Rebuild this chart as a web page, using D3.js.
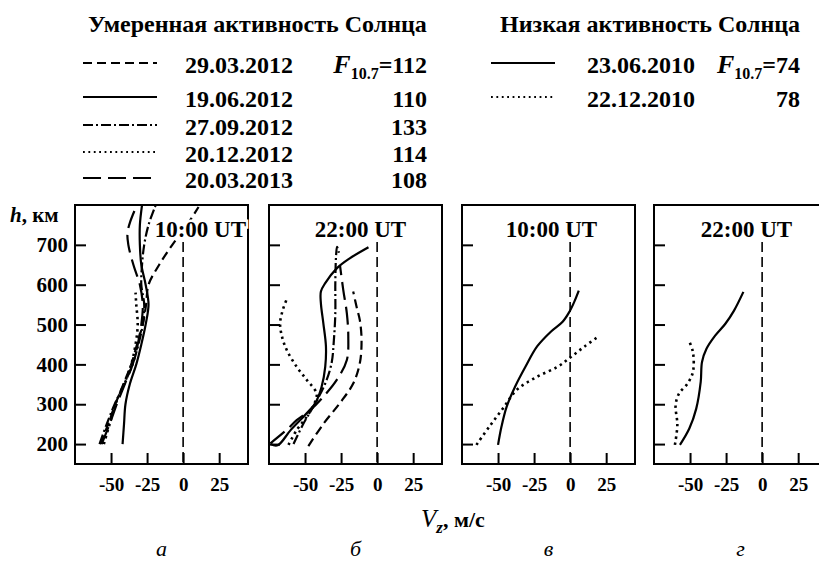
<!DOCTYPE html>
<html>
<head>
<meta charset="utf-8">
<script src="https://cdn.jsdelivr.net/npm/d3@7"></script>
<style>
  body { margin: 0; background: #fff; }
  svg text { font-family: "Times New Roman", Tinos, "Liberation Serif", "DejaVu Serif", serif; fill: #000; }
</style>
</head>
<body>
<svg id="chart" width="819" height="564"></svg>
<script>
// ---- data -------------------------------------------------------------
const panelLetters = ["а", "б", "в", "г"];
const panelTimes = ["10:00 UT", "22:00 UT", "10:00 UT", "22:00 UT"];
const heightTicks = [200, 300, 400, 500, 600, 700];
const velocityTicks = [-50, -25, 0, 25];

const moderateTitle = "Умеренная активность Солнца";
const moderateDates = ["29.03.2012", "19.06.2012", "27.09.2012", "20.12.2012", "20.03.2013"];
const moderateF107 = [112, 110, 133, 114, 108];
const lowTitle = "Низкая активность Солнца";
const lowDates = ["23.06.2010", "22.12.2010"];
const lowF107 = [74, 78];

// vertical plasma drift profiles, points are [Vz (m/s), h (km)]
// panel а: moderate activity, 10:00 UT
const a_29_03_2012 = [[-57.5,200],[-52,250],[-47,300],[-41.5,350],[-36,400],[-32,450],[-28,500],[-25.7,550],[-24,600],[-16.6,650],[-7.5,700],[2.7,750],[10.7,795]];
const a_19_06_2012 = [[-42,200],[-41,250],[-40,300],[-37,350],[-32.5,400],[-29,450],[-26,500],[-24,550],[-26,600],[-29,650],[-30,700],[-30,750],[-28.5,800]];
const a_27_09_2012 = [[-58,200],[-53,250],[-47.5,300],[-41,350],[-35,400],[-31,450],[-28,500],[-27,550],[-29,600],[-28.5,650],[-27,700],[-24,750],[-19,800]];
const a_20_12_2012 = [[-55,200],[-51,250],[-47,300],[-41,350],[-36,400],[-33,450],[-31.5,500],[-32.5,550],[-33,580]];
const a_20_03_2013 = [[-56.5,200],[-51,250],[-46,300],[-40.5,350],[-35,400],[-31.5,450],[-29,500],[-28,550],[-30,600],[-34.5,650],[-38,700],[-38.6,730],[-36.5,760],[-32,800]];

// panel б: moderate activity, 22:00 UT
const b_29_03_2012 = [[-47.7,195],[-37,252],[-26,302],[-16.6,352],[-12,403],[-10.8,461],[-12,511],[-14.3,545],[-16.6,583]];
const b_19_06_2012 = [[-74,200],[-69,197],[-60,235],[-50,273],[-43,302],[-38.5,344],[-36,394],[-35.5,445],[-37.3,503],[-39,553],[-39,583],[-36,604],[-28,641],[-19,666],[-6,694]];
const b_27_09_2012 = [[-58,200],[-51,252],[-43,302],[-36,352],[-31.6,403],[-30,461],[-29,528],[-29,603],[-28.5,671],[-27.8,695],[-26.5,680]];
const b_20_12_2012 = [[-61.5,198],[-55.8,235],[-48.8,269],[-43.5,302],[-42,327],[-48.8,361],[-55.8,394],[-62.7,436],[-66,470],[-67.3,503],[-65.4,537],[-62,570]];
const b_20_03_2013 = [[-74,202],[-63,235],[-55.8,260],[-46.5,285],[-37.3,319],[-28,361],[-21,411],[-20,470],[-21,528],[-23.5,587],[-25.8,650]];

// panel в: low activity, 10:00 UT
const c_23_06_2010 = [[-50,198],[-47.6,244],[-44,294],[-38.2,344],[-31,394],[-22.9,445],[-13.4,482],[-5.2,507],[-0.5,532],[3,558],[6,585]];
const c_22_12_2010 = [[-65,198],[-56,244],[-46.5,290],[-37,336],[-22.9,369],[-8.7,394],[0.7,419],[10,445],[19.6,470]];

// panel г: low activity, 22:00 UT
const d_23_06_2010 = [[-57,198],[-50.5,239],[-45.7,289],[-42.6,356],[-41.7,406],[-38.6,439],[-32.6,472],[-25.5,502],[-19.5,535],[-13,582]];
const d_22_12_2010 = [[-60.5,198],[-58.8,248],[-60,298],[-57.6,327],[-51.7,352],[-48,381],[-48,431],[-51,462]];

const panelSeries = [
  [["29.03.2012", a_29_03_2012], ["19.06.2012", a_19_06_2012], ["27.09.2012", a_27_09_2012], ["20.12.2012", a_20_12_2012], ["20.03.2013", a_20_03_2013]],
  [["29.03.2012", b_29_03_2012], ["19.06.2012", b_19_06_2012], ["27.09.2012", b_27_09_2012], ["20.12.2012", b_20_12_2012], ["20.03.2013", b_20_03_2013]],
  [["23.06.2010", c_23_06_2010], ["22.12.2010", c_22_12_2010]],
  [["23.06.2010", d_23_06_2010], ["22.12.2010", d_22_12_2010]]
];

// ---- styles -------------------------------------------------------------
const dashByDate = {
  "29.03.2012": "9,5",
  "19.06.2012": null,
  "27.09.2012": "10,3,2,3",
  "20.12.2012": "dot",
  "20.03.2013": "18,7",
  "23.06.2010": null,
  "22.12.2010": "dot"
};

const svg = d3.select("#chart");
const panelLeft = [75, 269, 462, 654];
const panelWidth = 173;
const panelTop = 205, panelBottom = 464;
const titleAnchor = ["end", "middle", "middle", "middle"];
const titleShift = [-2, 5, 3, 6];

const y = d3.scaleLinear().domain([150, 800]).range([panelBottom, panelTop]);

function applyDash(sel, key, forLegend) {
  const d = dashByDate[key];
  if (d === "dot") {
    sel.attr("stroke-dasharray", forLegend ? "1.8,3.6" : "2.4,3.8");
  } else if (d) {
    sel.attr("stroke-dasharray", d);
  }
}

panelSeries.forEach((series, i) => {
  const x0 = panelLeft[i];
  const x = d3.scaleLinear().domain([-75, 45]).range([x0, x0 + panelWidth]);
  const g = svg.append("g");

  const clipId = "clip" + i;
  svg.append("clipPath").attr("id", clipId).append("rect")
    .attr("x", x0).attr("y", panelTop).attr("width", panelWidth).attr("height", panelBottom - panelTop);

  // zero-velocity reference
  g.append("line")
    .attr("x1", x(0)).attr("x2", x(0))
    .attr("y1", y(707)).attr("y2", panelBottom)
    .attr("stroke", "#000").attr("stroke-width", 1.6)
    .attr("stroke-dasharray", "10,5");

  const line = d3.line()
    .x(d => x(d[0])).y(d => y(d[1]))
    .curve(d3.curveCatmullRom.alpha(0.5));

  const curves = g.append("g").attr("clip-path", `url(#${clipId})`);
  series.forEach(([date, pts]) => {
    const p = curves.append("path")
      .attr("d", line(pts))
      .attr("fill", "none")
      .attr("stroke", "#000")
      .attr("stroke-width", dashByDate[date] === "dot" ? 2.6 : 2.2)
      .attr("stroke-linejoin", "round");
    applyDash(p, date, false);
  });

  // frame
  g.append("rect")
    .attr("x", x0).attr("y", panelTop)
    .attr("width", panelWidth).attr("height", panelBottom - panelTop)
    .attr("fill", "none").attr("stroke", "#000").attr("stroke-width", 2);

  // axes with inward ticks
  const yAxis = d3.axisLeft(y).tickValues(heightTicks)
    .tickSizeInner(-11).tickSizeOuter(0).tickPadding(7)
    .tickFormat(i === 0 ? d => String(d) : () => "");
  const ya = g.append("g").attr("transform", `translate(${x0},0)`).call(yAxis);
  ya.select(".domain").remove();
  ya.selectAll("line").attr("stroke-width", 2);
  ya.selectAll("text").attr("font-size", 21).attr("font-weight", "bold");

  const xAxis = d3.axisBottom(x).tickValues(velocityTicks)
    .tickSizeInner(-11).tickSizeOuter(0).tickPadding(14)
    .tickFormat(d => String(d));
  const xa = g.append("g").attr("transform", `translate(0,${panelBottom})`).call(xAxis);
  xa.select(".domain").remove();
  xa.selectAll("line").attr("stroke-width", 2);
  xa.selectAll("text").attr("font-size", 19).attr("font-weight", "bold");

  // panel time label
  const tx = titleAnchor[i] === "end" ? x0 + panelWidth + titleShift[i] : x0 + panelWidth / 2 + titleShift[i];
  g.append("text")
    .attr("x", tx).attr("y", 237)
    .attr("text-anchor", titleAnchor[i])
    .attr("font-size", 23).attr("font-weight", "bold")
    .attr("stroke", "#fff").attr("stroke-width", 5).attr("paint-order", "stroke")
    .text(panelTimes[i]);

  // panel letter
  svg.append("text")
    .attr("x", x0 + panelWidth / 2).attr("y", 556)
    .attr("text-anchor", "middle")
    .attr("font-size", 22).attr("font-style", "italic")
    .text(panelLetters[i]);
});

// axis titles
const hLabel = svg.append("text").attr("x", 10).attr("y", 222)
  .attr("font-size", 21).attr("font-weight", "bold");
hLabel.append("tspan").attr("font-style", "italic").text("h");
hLabel.append("tspan").text(", км");

const vLabel = svg.append("text").attr("x", 421).attr("y", 527)
  .attr("font-size", 22).attr("font-weight", "bold");
vLabel.append("tspan").attr("font-style", "italic").attr("font-weight", "normal").attr("font-size", 25).text("V");
vLabel.append("tspan").attr("font-style", "italic").attr("font-size", 17).attr("dy", 6).text("z");
vLabel.append("tspan").attr("dy", -6).text(", м/с");

// ---- legend -------------------------------------------------------------
const legendFont = 24;
function legendGroup(title, dates, values, o) {
  const g = svg.append("g");
  g.append("text").attr("x", o.titleX).attr("y", 32)
    .attr("font-size", legendFont).attr("font-weight", "bold").text(title);
  dates.forEach((date, k) => {
    const base = o.rows[k];
    const ln = g.append("line")
      .attr("x1", o.lineX0).attr("x2", o.lineX1)
      .attr("y1", base - 10).attr("y2", base - 10)
      .attr("stroke", "#000").attr("stroke-width", 2);
    applyDash(ln, date, true);
    g.append("text").attr("x", o.dateX).attr("y", base)
      .attr("font-size", legendFont).attr("font-weight", "bold").text(date);
    const v = g.append("text").attr("x", o.valueX).attr("y", base)
      .attr("text-anchor", "end")
      .attr("font-size", legendFont).attr("font-weight", "bold");
    if (k === 0) {
      v.append("tspan").attr("font-style", "italic").attr("font-size", 26).text("F");
      v.append("tspan").attr("font-size", 16).attr("dy", 6).text("10.7");
      v.append("tspan").attr("dy", -6).text("=" + values[k]);
    } else {
      v.text(values[k]);
    }
  });
}

legendGroup(moderateTitle, moderateDates, moderateF107, {
  titleX: 88, lineX0: 83, lineX1: 157, dateX: 185, valueX: 427,
  rows: [73, 107, 135, 162, 188]
});
legendGroup(lowTitle, lowDates, lowF107, {
  titleX: 500, lineX0: 491, lineX1: 555, dateX: 587, valueX: 800,
  rows: [73, 107]
});
</script>
</body>
</html>
